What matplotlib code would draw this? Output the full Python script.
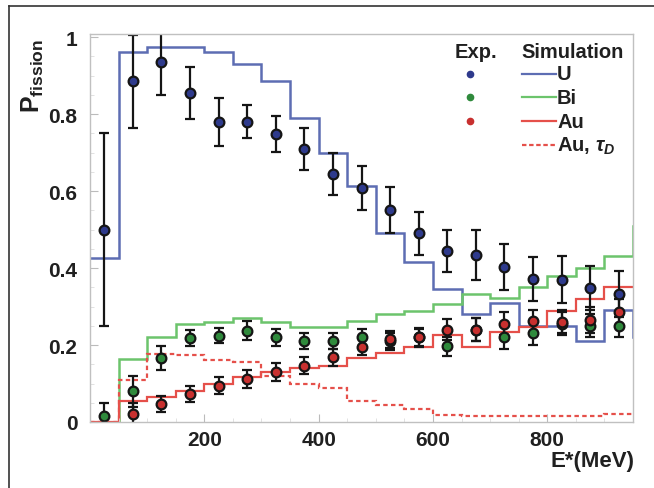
import matplotlib
matplotlib.use('Agg')
import matplotlib.pyplot as plt
from matplotlib.lines import Line2D
from matplotlib.ticker import MultipleLocator

# simulation histograms, 50 MeV bins
bin_edges = [0, 50, 100, 150, 200, 250, 300, 350, 400, 450, 500,
             550, 600, 650, 700, 750, 800, 850, 900, 950, 1000]
sim_u = [0.425, 0.96, 0.975, 0.975, 0.96, 0.93, 0.885, 0.79, 0.70, 0.613,
         0.49, 0.415, 0.345, 0.28, 0.31, 0.25, 0.25, 0.21, 0.29, 0.22]
sim_bi = [0.0, 0.164, 0.22, 0.255, 0.26, 0.27, 0.26, 0.247, 0.247, 0.262,
          0.28, 0.288, 0.306, 0.332, 0.322, 0.35, 0.38, 0.40, 0.43, 0.51]
sim_au = [0.0, 0.055, 0.065, 0.08, 0.10, 0.117, 0.13, 0.14, 0.146, 0.165,
          0.178, 0.195, 0.225, 0.195, 0.233, 0.247, 0.288, 0.32, 0.35, 0.35]
sim_au_tau = [0.0, 0.11, 0.177, 0.175, 0.16, 0.155, 0.12, 0.10, 0.088, 0.055,
              0.045, 0.034, 0.018, 0.015, 0.015, 0.015, 0.015, 0.015, 0.02, 0.02]

# experimental points
e_centers = [25, 75, 125, 175, 225, 275, 325, 375, 425, 475,
             525, 575, 625, 675, 725, 775, 825, 875, 925]
exp_u = [0.50, 0.885, 0.935, 0.855, 0.78, 0.78, 0.748, 0.709, 0.644, 0.608,
         0.551, 0.49, 0.444, 0.434, 0.402, 0.371, 0.37, 0.348, 0.332]
exp_u_err = [0.25, 0.12, 0.085, 0.068, 0.063, 0.043, 0.047, 0.055, 0.055, 0.058,
             0.06, 0.055, 0.055, 0.065, 0.06, 0.057, 0.06, 0.057, 0.06]
exp_bi = [0.015, 0.08, 0.166, 0.218, 0.224, 0.237, 0.22, 0.21, 0.21, 0.22,
          0.21, 0.22, 0.197, 0.24, 0.22, 0.23, 0.255, 0.25, 0.25]
exp_bi_err = [0.035, 0.04, 0.032, 0.02, 0.02, 0.025, 0.022, 0.02, 0.02, 0.022,
              0.022, 0.022, 0.025, 0.03, 0.03, 0.03, 0.03, 0.03, 0.03]
exp_au = [None, 0.02, 0.047, 0.073, 0.094, 0.112, 0.13, 0.146, 0.168, 0.195,
          0.215, 0.22, 0.24, 0.24, 0.255, 0.262, 0.26, 0.265, 0.285]
exp_au_err = [0.0, 0.03, 0.021, 0.021, 0.022, 0.023, 0.023, 0.022, 0.022, 0.022,
              0.022, 0.025, 0.028, 0.03, 0.03, 0.03, 0.03, 0.035, 0.035]

c_u_line, c_bi_line, c_au_line = '#5d6db3', '#6cc46c', '#e5504a'
c_u_pt, c_bi_pt, c_au_pt = '#2e3a8c', '#2f8a3c', '#c8302f'

W, H = 654, 489


def fpx(x, y):
    return x / W, 1 - y / H


plt.rcParams['font.family'] = ['Liberation Sans', 'DejaVu Sans']
plt.rcParams['font.weight'] = 'bold'
plt.rcParams['mathtext.fontset'] = 'custom'
plt.rcParams['mathtext.rm'] = 'Liberation Sans:bold'
plt.rcParams['mathtext.it'] = 'Liberation Sans:bold:italic'
plt.rcParams['mathtext.bf'] = 'Liberation Sans:bold'

fig = plt.figure(figsize=(W / 100, H / 100), dpi=100)
ax = fig.add_axes([90 / W, 1 - 423 / H, (633 - 90) / W, (423 - 35) / H])

ax.stairs(sim_u, bin_edges, color=c_u_line, lw=1.8, baseline=None)
ax.stairs(sim_bi, bin_edges, color=c_bi_line, lw=1.8, baseline=None)
ax.stairs(sim_au, bin_edges, color=c_au_line, lw=1.6, baseline=None)
ax.stairs(sim_au_tau, bin_edges, color=c_au_line, lw=1.6, baseline=None,
          linestyle=(0, (2, 1.5)))

for vals, errs, col in [(exp_bi, exp_bi_err, c_bi_pt),
                        (exp_au, exp_au_err, c_au_pt),
                        (exp_u, exp_u_err, c_u_pt)]:
    xs = [x for x, v in zip(e_centers, vals) if v is not None]
    ys = [v for v in vals if v is not None]
    es = [e for e, v in zip(errs, vals) if v is not None]
    ax.errorbar(xs, ys, yerr=es, fmt='o', color='#151515', ecolor='#151515',
                elinewidth=1.6, capsize=3.5, capthick=1.6,
                markersize=7, markerfacecolor=col, markeredgecolor='#151515',
                markeredgewidth=1.6)

ax.set_xlim(0, 950)
ax.set_ylim(0, 1.008)
ax.set_xticks([200, 400, 600, 800])
ax.set_yticks([0, 0.2, 0.4, 0.6, 0.8, 1.0])
ax.set_yticklabels(['0', '0.2', '0.4', '0.6', '0.8', '1'])
ax.xaxis.set_minor_locator(MultipleLocator(50))
ax.yaxis.set_minor_locator(MultipleLocator(0.05))
ax.tick_params(direction='in', colors='#bbbbbb', labelcolor='#202020',
               labelsize=15, length=6, width=0.8, top=False, right=False)
ax.tick_params(axis='y', pad=9)
ax.tick_params(axis='x', pad=6)
ax.tick_params(which='minor', direction='in', colors='#dddddd', length=3,
               top=False, right=False)
for s in ax.spines.values():
    s.set_color('#c0c0c0')
    s.set_linewidth(1.0)

# axis titles
fig.text(*fpx(634, 462), 'E*(MeV)', ha='right', va='center', fontsize=16,
         color='#202020')
fig.text(*fpx(33, 76), r'$\mathbf{P}_{\mathbf{fission}}$', rotation=90,
         ha='center', va='center', fontsize=18, color='#202020')

# legend drawn by hand
fig.text(*fpx(476, 53), 'Exp.', ha='center', va='center', fontsize=14.5,
         color='#202020')
fig.text(*fpx(573, 53), 'Simulation', ha='center', va='center', fontsize=14.5,
         color='#202020')
leg_rows = [('U', c_u_pt, c_u_line, '-', 75),
            ('Bi', c_bi_pt, c_bi_line, '-', 98),
            ('Au', c_au_pt, c_au_line, '-', 122),
            (r'Au, $\tau_D$', None, c_au_line, (0, (2, 1.2)), 146)]
for lab, pc, lc, ls, y in leg_rows:
    if pc is not None:
        x0, y0 = fpx(470, y)
        fig.add_artist(Line2D([x0], [y0], marker='o', markersize=4.5,
                              color=pc, transform=fig.transFigure))
    xa, ya = fpx(522, y)
    xb, _ = fpx(556, y)
    fig.add_artist(Line2D([xa, xb], [ya, ya], color=lc, lw=1.6, linestyle=ls,
                          transform=fig.transFigure))
    fig.text(*fpx(557, y), lab, ha='left', va='center', fontsize=14.5,
             color='#202020')

# outer frame (left and top edges)
fig.add_artist(Line2D([9 / W, 9 / W], [0, 1 - 7 / H], color='#333333', lw=1.2,
                      transform=fig.transFigure))
fig.add_artist(Line2D([9 / W, 1], [1 - 7 / H, 1 - 7 / H], color='#333333',
                      lw=1.2, transform=fig.transFigure))

fig.savefig('out.png', dpi=100, facecolor='white')
